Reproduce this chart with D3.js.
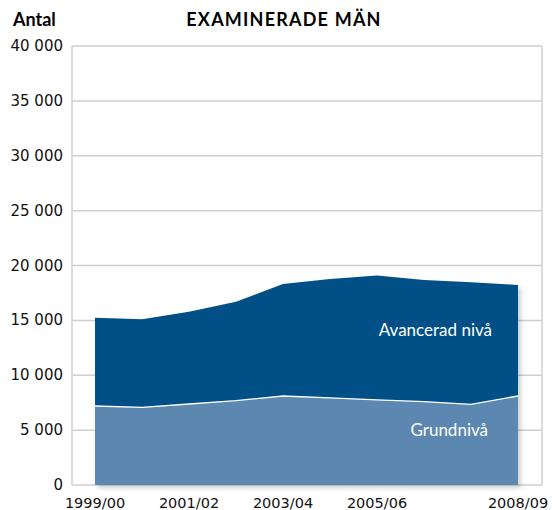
<!DOCTYPE html>
<html>
<head>
    <script src="https://d3js.org/d3.v7.min.js"></script>
    <style>
        body { margin: 0; background: #fff; }
    </style>
</head>
<body>
    <svg width="552" height="510"></svg>
    <script>
        // data
        var years = ["1999/00", "2000/01", "2001/02", "2002/03", "2003/04",
                     "2004/05", "2005/06", "2006/07", "2007/08", "2008/09"];
        var grund = [7200, 7080, 7380, 7680, 8110, 7930, 7750, 7600, 7350, 8110];
        var avancerad = [8050, 8020, 8410, 9020, 10210, 10850, 11330, 11080, 11120, 10110];
        var yTicks = [0, 5000, 10000, 15000, 20000, 25000, 30000, 35000, 40000];
        var xLabels = ["1999/00", "2001/02", "2003/04", "2005/06", "2008/09"];

        var svg = d3.select("svg");
        var plotLeft = 72, plotRight = 542, plotTop = 46, plotBottom = 485;

        var x = d3.scalePoint().domain(years).range([95, 518]);
        var y = d3.scaleLinear().domain([0, 40000]).range([plotBottom, plotTop]);

        var rows = years.map(function(d, i) {
            return { year: d, grund: grund[i], avancerad: avancerad[i] };
        });
        var stack = d3.stack().keys(["grund", "avancerad"]);
        var series = stack(rows);

        var fmt = function(v) { return d3.format(",")(v).replace(",", " "); };

        // shadow
        var defs = svg.append("defs");
        var f = defs.append("filter").attr("id", "sh")
            .attr("x", "-5%").attr("y", "-5%").attr("width", "115%").attr("height", "115%");
        f.append("feDropShadow").attr("dx", 3).attr("dy", 3).attr("stdDeviation", 2)
            .attr("flood-color", "#000").attr("flood-opacity", 0.18);

        // grid
        svg.append("g").selectAll("line").data(yTicks).enter().append("line")
            .attr("x1", plotLeft).attr("x2", plotRight)
            .attr("y1", function(d) { return y(d); })
            .attr("y2", function(d) { return y(d); })
            .attr("stroke", "#cfcfcf").attr("stroke-width", 1.5);
        svg.append("line").attr("x1", plotLeft).attr("x2", plotLeft).attr("y1", plotTop).attr("y2", plotBottom)
            .attr("stroke", "#cfcfcf").attr("stroke-width", 1.5);
        svg.append("line").attr("x1", plotRight).attr("x2", plotRight).attr("y1", plotTop).attr("y2", plotBottom)
            .attr("stroke", "#cfcfcf").attr("stroke-width", 1.5);

        var area = d3.area()
            .x(function(d) { return x(d.data.year); })
            .y0(function(d) { return y(d[0]); })
            .y1(function(d) { return y(d[1]); });

        var colors = ["#5b87b0", "#004f86"];
        var g = svg.append("g").attr("filter", "url(#sh)");
        g.selectAll("path").data(series).enter().append("path")
            .attr("d", area)
            .attr("fill", function(d, i) { return colors[i]; });

        // white separator between the layers
        svg.append("path")
            .datum(series[0])
            .attr("d", d3.line()
                .x(function(d) { return x(d.data.year); })
                .y(function(d) { return y(d[1]); }))
            .attr("fill", "none").attr("stroke", "#fff").attr("stroke-width", 1.3);

        // y labels
        svg.append("g").selectAll("text").data(yTicks).enter().append("text")
            .attr("x", 63).attr("y", function(d) { return y(d) + 5; })
            .attr("text-anchor", "end")
            .style("font-family", "DejaVu Sans").style("font-size", "15px")
            .attr("fill", "#111")
            .text(fmt);

        // x labels
        svg.append("g").selectAll("text").data(xLabels).enter().append("text")
            .attr("x", function(d) { return x(d); }).attr("y", 508)
            .attr("text-anchor", "middle")
            .style("font-family", "DejaVu Sans").style("font-size", "14.5px")
            .attr("fill", "#111")
            .text(function(d) { return d; });

        svg.append("text").attr("x", 13).attr("y", 26)
            .style("font-family", "Lato").style("font-weight", "bold").style("font-size", "18px")
            .text("Antal");
        svg.append("text").attr("x", 284).attr("y", 26).attr("text-anchor", "middle")
            .style("font-family", "Lato").style("font-weight", "bold").style("font-size", "18px")
            .style("letter-spacing", "1.2px")
            .text("EXAMINERADE MÄN");

        svg.append("text").attr("x", 492).attr("y", 336).attr("text-anchor", "end")
            .style("font-family", "Lato").style("font-size", "17px").attr("fill", "#fff")
            .text("Avancerad nivå");
        svg.append("text").attr("x", 488).attr("y", 436).attr("text-anchor", "end")
            .style("font-family", "Lato").style("font-size", "17px").attr("fill", "#fff")
            .text("Grundnivå");
    </script>
</body>
</html>
